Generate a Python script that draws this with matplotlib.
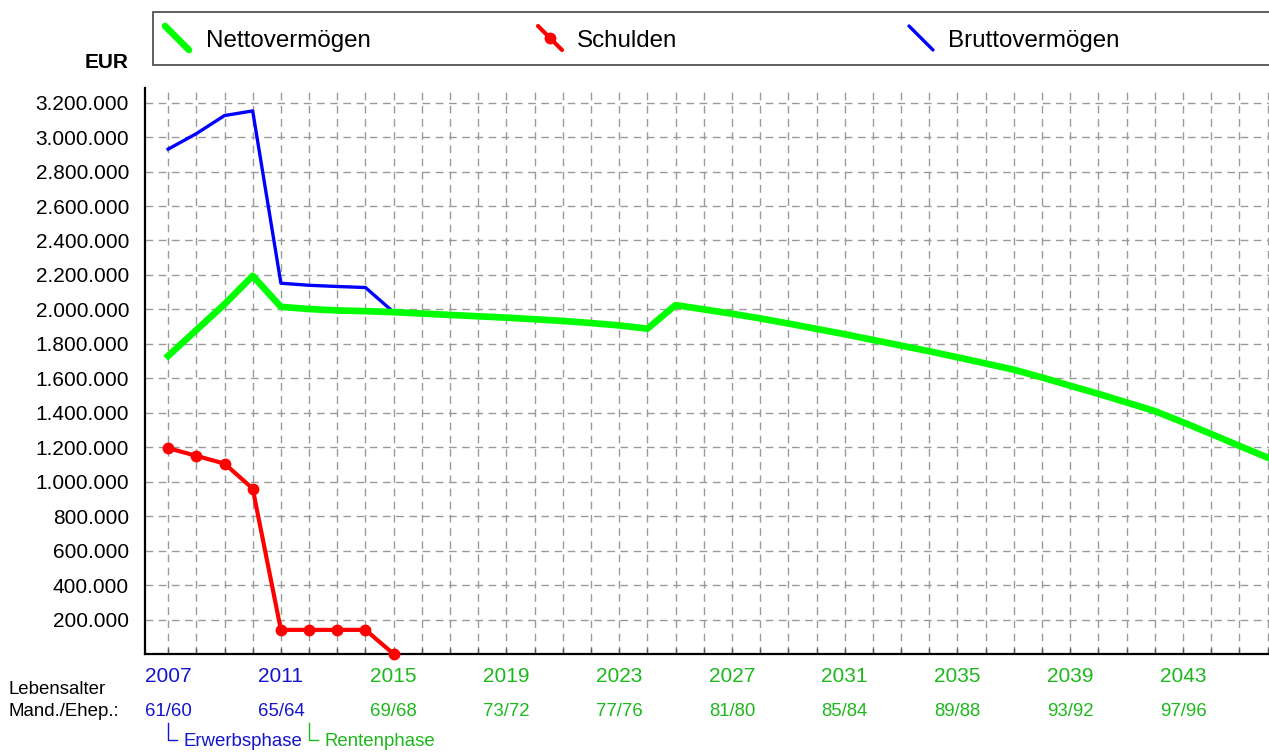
import matplotlib
matplotlib.use('Agg')
import matplotlib.pyplot as plt
from matplotlib.lines import Line2D
from matplotlib.patches import Rectangle
from matplotlib.ticker import FuncFormatter
import matplotlib.transforms as mtransforms

plt.rcParams['font.family'] = ['Liberation Sans', 'DejaVu Sans']

# data (EUR)
years = list(range(2007, 2047))
netto = [1730000, 1880000, 2030000, 2195000, 2015000, 2002000, 1994000, 1990000, 1984000, 1976000,
         1968000, 1960000, 1952000, 1943000, 1933000, 1921000, 1907000, 1888000, 2025000, 2000000,
         1975000, 1948000, 1918000, 1887000, 1856000, 1823000, 1790000, 1757000, 1722000, 1686000,
         1650000, 1605000, 1557000, 1510000, 1460000, 1410000, 1345000, 1277000, 1208000, 1140000]
schulden_years = list(range(2007, 2016))
schulden = [1195000, 1150000, 1105000, 960000, 140000, 140000, 140000, 140000, 0]
brutto_years = list(range(2007, 2016))
brutto = [2930000, 3020000, 3125000, 3152000, 2152000, 2140000, 2133000, 2127000, 1984000]

label_years = [2007, 2011, 2015, 2019, 2023, 2027, 2031, 2035, 2039, 2043]
ages = ['61/60', '65/64', '69/68', '73/72', '77/76', '81/80', '85/84', '89/88', '93/92', '97/96']
rente_start = 2012

BLUE_TXT = '#1414cc'
GREEN_TXT = '#1cb81c'

W, H = 1269, 752
fig = plt.figure(figsize=(W / 100, H / 100), dpi=100)

def fx(px):
    return px / W

def fy(py):
    return 1 - py / H

ax = fig.add_axes([fx(145), fy(654), fx(1269 - 145), (654 - 88) / H])

ax.plot(brutto_years, brutto, color='#0000ff', lw=2.4, zorder=3)
ax.plot(years, netto, color='#00ff00', lw=4.8, zorder=4, clip_on=False)
ax.plot(schulden_years, schulden, color='#ff0000', lw=3.0, marker='o', ms=7.5, zorder=5, clip_on=False)

ax.set_xlim(2006.18, 2046.05)
ax.set_ylim(0, 3285000)
ax.set_xticks(years)
ax.set_xticklabels([])
ax.set_yticks(range(200000, 3200001, 200000))
ax.yaxis.set_major_formatter(FuncFormatter(lambda v, p: f'{int(v):,}'.replace(',', '.')))
ax.tick_params(axis='y', length=0, pad=11.5, labelsize=15)
ax.tick_params(axis='x', direction='in', length=4, width=1, color='#555555')
ax.grid(True, color='#9a9a9a', lw=1, dashes=(5.5, 4))
ax.set_axisbelow(True)
for s in ['top', 'right']:
    ax.spines[s].set_visible(False)
for s in ['left', 'bottom']:
    ax.spines[s].set_linewidth(1.6)
    ax.spines[s].set_color('black')

fig.text(fx(128), fy(62), 'EUR', fontsize=15, fontweight='bold', ha='right', va='center')

# x labels
trans = mtransforms.blended_transform_factory(ax.transData, fig.transFigure)
for yr, ag in zip(label_years, ages):
    c = BLUE_TXT if yr < rente_start else GREEN_TXT
    ax.text(yr, fy(677), str(yr), transform=trans, ha='center', va='center', fontsize=15, color=c)
    ax.text(yr, fy(711), ag, transform=trans, ha='center', va='center', fontsize=13.4, color=c)

fig.text(fx(9), fy(690), 'Lebensalter', fontsize=13.4, ha='left', va='center')
fig.text(fx(9), fy(711), 'Mand./Ehep.:', fontsize=13.4, ha='left', va='center')

# phase brackets
for x0, col, lab in [(168, BLUE_TXT, 'Erwerbsphase'), (309, GREEN_TXT, 'Rentenphase')]:
    fig.add_artist(Line2D([fx(x0), fx(x0), fx(x0 + 9)], [fy(723), fy(740), fy(740)],
                          color=col, lw=1.0))
    fig.text(fx(x0 + 16), fy(741), lab, fontsize=13.4, ha='left', va='center', color=col)

# legend box
fig.add_artist(Rectangle((fx(153), fy(65)), fx(1280 - 153), (65 - 12) / H,
                         transform=fig.transFigure, facecolor='white',
                         edgecolor='#444444', lw=1.2, clip_on=False))
legend_items = [(165, 206, '#00ff00', 4.8, None, 'Nettovermögen'),
                (538, 577, '#ff0000', 3.0, 'o', 'Schulden'),
                (909, 948, '#0000ff', 2.4, None, 'Bruttovermögen')]
for hx, tx, col, lw, mk, lab in legend_items:
    fig.add_artist(Line2D([fx(hx), fx(hx + 24)], [fy(26), fy(50)], color=col, lw=lw,
                          solid_capstyle='round'))
    if mk:
        fig.add_artist(Line2D([fx(hx + 12)], [fy(38)], color=col, marker=mk, ms=7.5, lw=0))
    fig.text(fx(tx), fy(41), lab, fontsize=17.4, ha='left', va='center')

fig.savefig('out.png', dpi=100)
